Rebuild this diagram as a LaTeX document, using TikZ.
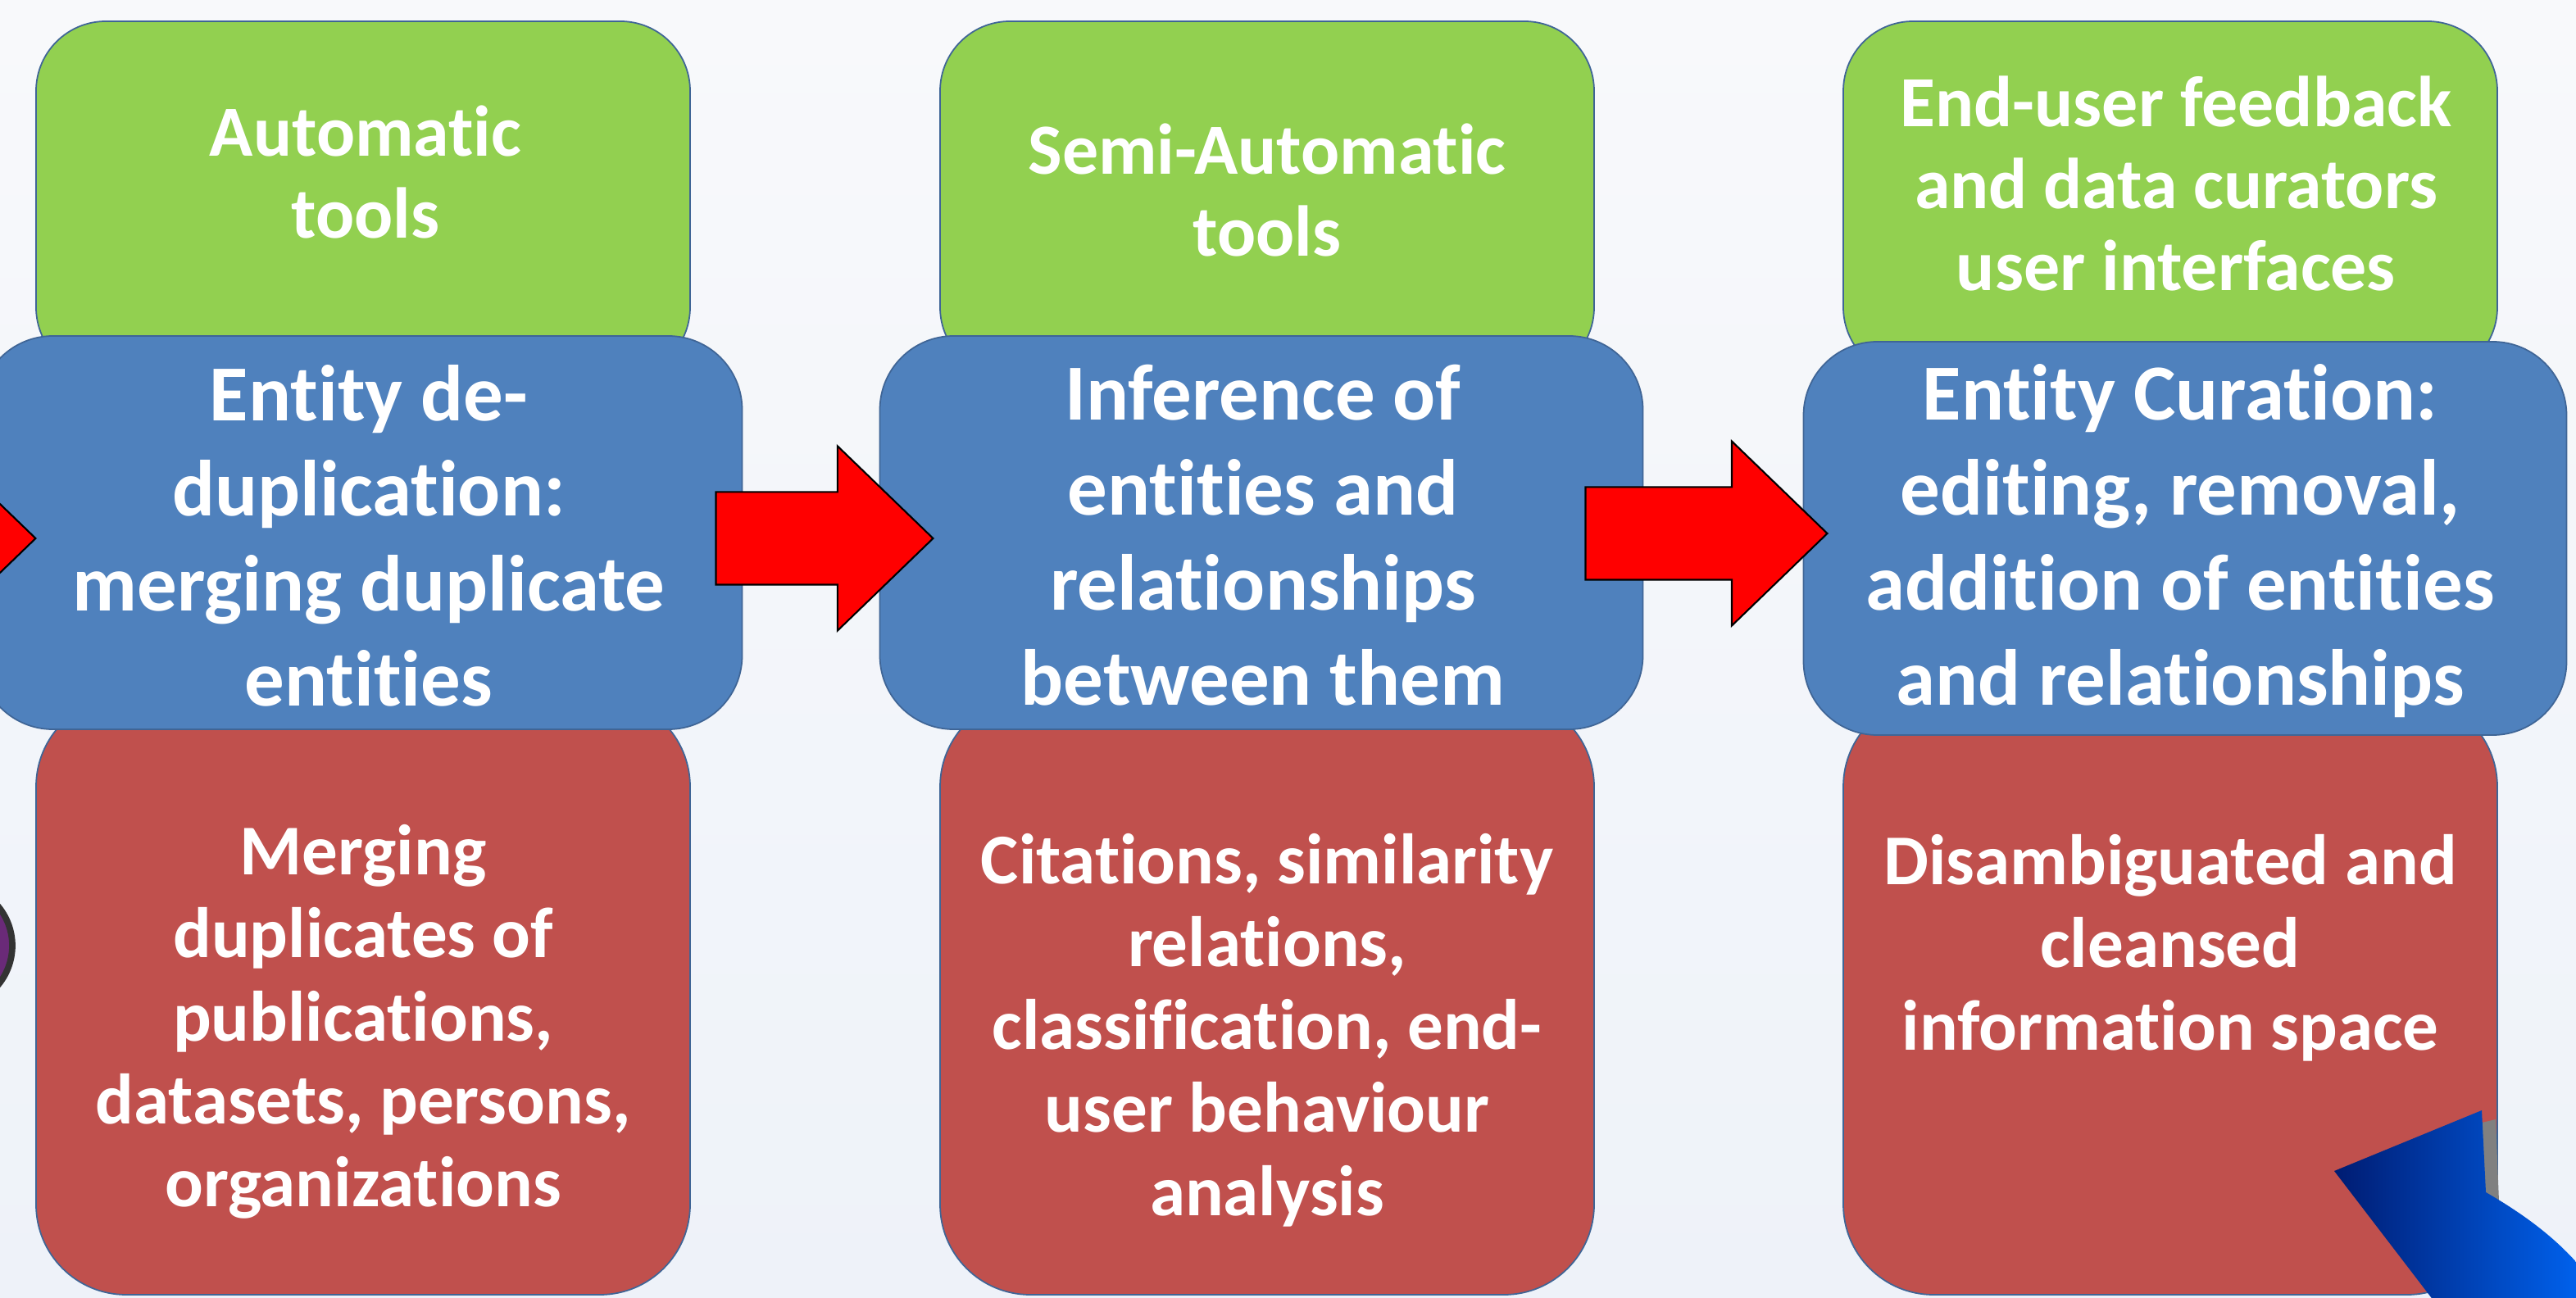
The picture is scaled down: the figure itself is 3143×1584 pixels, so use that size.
\documentclass[tikz,border=0pt]{standalone}
\usepackage{fontspec}
\setmainfont{Carlito}[Ligatures=NoCommon]
\usetikzlibrary{positioning}
\usetikzlibrary{shapes.arrows}
\definecolor{bgtop}{HTML}{F8F9FB}
\definecolor{bgbottom}{HTML}{EEF2F9}
\definecolor{toolgreen}{HTML}{92D050}
\definecolor{taskblue}{HTML}{4F81BD}
\definecolor{outred}{HTML}{C0504D}
\definecolor{edgeblue}{HTML}{3F6596}
\definecolor{darknavy}{HTML}{001C72}
\definecolor{brightblue}{HTML}{0062EE}
\definecolor{dotpurple}{HTML}{6A2A78}

\begin{document}
\begin{tikzpicture}[
				x=0.1mm, y=-0.1mm,
				box/.style={draw=edgeblue, line width=0.5pt, inner sep=0pt, minimum width=79.8mm},
				toolbox/.style={box, fill=toolgreen, rounded corners=8.5mm, minimum height=43.4mm},
				taskbox/.style={box, fill=taskblue, rounded corners=9mm, minimum width=93.1mm, minimum height=48mm},
				resultbox/.style={box, fill=outred, rounded corners=11mm, minimum height=73mm},
				tooltext/.style={text=white, align=center, font=\bfseries\fontsize{25}{28.5}\selectfont},
				tasktext/.style={text=white, align=center, font=\bfseries\fontsize{27.6}{33}\selectfont},
				resulttext/.style={text=white, align=center, font=\bfseries\fontsize{24.8}{28.8}\selectfont},
				flow/.style={single arrow, draw=black, line width=0.6pt, fill=red, inner xsep=0pt, inner ysep=5.55mm,
					single arrow head extend=5.6mm, single arrow tip angle=88, anchor=tip},
			]
				\useasboundingbox (0,0) rectangle (3143,1584);
				\clip (0,0) rectangle (3143,1584);
				\shade[top color=bgtop, bottom color=bgbottom] (0,0) rectangle (3143,1584);
				
				% green: tools
				\node (g1) [toolbox] at (443,243) {};
				\node (g2) [toolbox] at (1546,243) {};
				\node (g3) [toolbox] at (2648,243) {};
				
				% red: results
				\node (r1) [resultbox] at (443,1215) {};
				\node (r2) [resultbox] at (1546,1215) {};
				\node (r3) [resultbox] at (2648,1215) {};
				
				% blue: tasks
				\node (b1) [taskbox] at (440,650) {};
				\node (b2) [taskbox] at (1539,650) {};
				\node (b3) [taskbox] at (2666,657) {};
				
				\node (g1t) [tooltext] at (446,210) {Automatic\\tools};
				\node (g2t) [tooltext] at (1546,232) {Semi-Automatic\\tools};
				\node (g3t) [tooltext] at (2655,224) {End-user feedback\\and data curators\\user interfaces};
				
				\node (b1t) [tasktext] at (450,654) {Entity de-\\duplication:\\merging duplicate\\entities};
				\node (b2t) [tasktext] at (1541,653) {Inference of\\entities and\\relationships\\between them};
				\node (b3t) [tasktext] at (2660,660) {Entity Curation:\\editing, removal,\\addition of entities\\and relationships};
				
				\node (r1t) [resulttext] at (443,1247) {Merging\\duplicates of\\publications,\\datasets, persons,\\organizations};
				\node (r2t) [resulttext] at (1546,1257) {Citations, similarity\\relations,\\classification, end-\\user behaviour\\analysis};
				\node (r3t) [resulttext] at (2648,1157) {Disambiguated and\\cleansed\\information space};
				
				% flow arrows
				\node (a0) [flow, minimum height=26.5mm] at (45,657) {};
				\node (a1) [flow, minimum height=26.5mm] at (1140,657) {};
				\node (a2) [flow, minimum height=29.5mm] at (2231,651) {};
				
				% loose ends at the border
				\node (dot) [circle, draw=black!80, line width=2.2pt, fill=dotpurple, minimum size=15mm] at (-60,1154) {};
				\fill[gray] (3020,1372) -- (3045,1366) -- (3049,1466) -- (3033,1455) -- cycle;
				\shade[left color=darknavy, right color=brightblue]
					(2848,1429) -- (3028,1355) -- (3033,1455)
					.. controls (3080,1482) and (3120,1512) .. (3150,1548)
					-- (3150,1600) -- (2979,1600) -- cycle;
			\end{tikzpicture}
\end{document}
